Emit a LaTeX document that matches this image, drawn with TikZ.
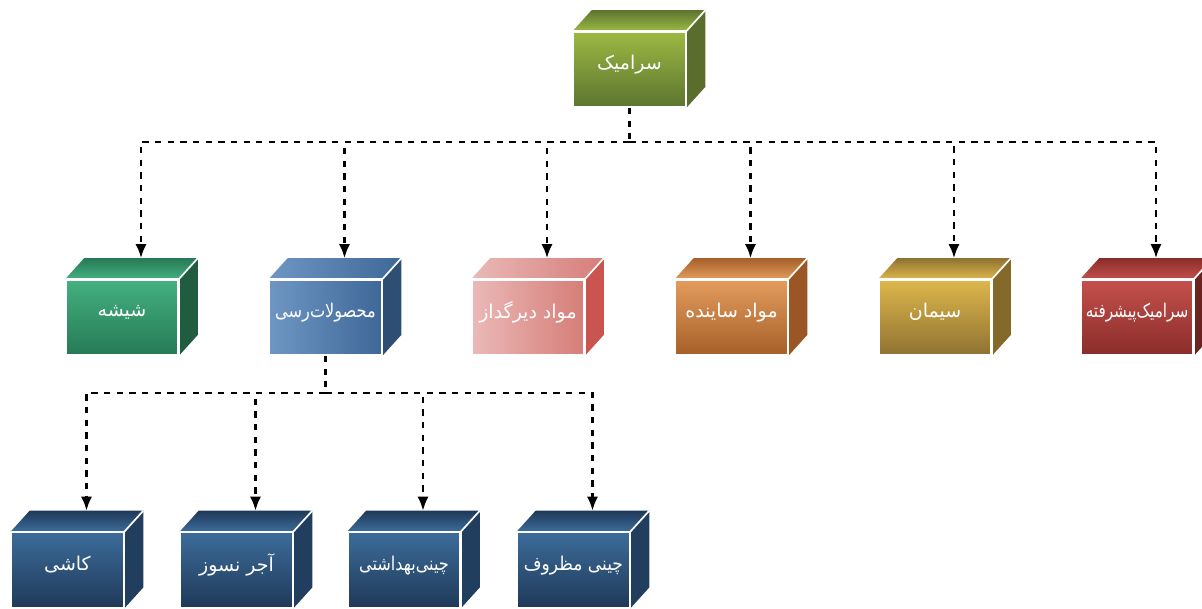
\documentclass[tikz,border=0pt]{standalone}
\usepackage{fontspec}
\usetikzlibrary{arrows.meta,calc}

\newfontfamily\fa[Script=Arabic]{DejaVu Sans}
\TeXXeTstate=1
\newcommand{\lbl}[1]{\raisebox{10pt}{\fa\beginR #1\endR}}
\newcommand{\narrowlbl}[1]{\scalebox{0.85}[1]{\lbl{#1}}}

\definecolor{oliveA}{HTML}{9CB943}
\definecolor{oliveB}{HTML}{5C7530}
\definecolor{oliveS}{HTML}{5A6D2D}
\definecolor{greenA}{HTML}{44B080}
\definecolor{greenB}{HTML}{267A55}
\definecolor{greenS}{HTML}{1F5C40}
\definecolor{steelA}{HTML}{6F96C3}
\definecolor{steelB}{HTML}{3E6898}
\definecolor{steelS}{HTML}{2F4E73}
\definecolor{roseA}{HTML}{EAB9B7}
\definecolor{roseB}{HTML}{D67D78}
\definecolor{roseS}{HTML}{C95450}
\definecolor{rustA}{HTML}{E39C5D}
\definecolor{rustB}{HTML}{A65F28}
\definecolor{rustS}{HTML}{9A5624}
\definecolor{goldA}{HTML}{DDB64B}
\definecolor{goldB}{HTML}{8F7232}
\definecolor{goldS}{HTML}{84692A}
\definecolor{redA}{HTML}{C4504C}
\definecolor{redB}{HTML}{8A2D2A}
\definecolor{redS}{HTML}{6A2321}
\definecolor{navyA}{HTML}{3C6C9A}
\definecolor{navyB}{HTML}{1F3958}
\definecolor{navyS}{HTML}{223E5E}

\tikzset{
    block/.style={draw=white, line width=1.2pt, minimum width=2.8cm, minimum height=1.875cm,
        inner sep=0pt, text=white, font=\fontsize{13.5}{15}\selectfont},
    vgrad/.style 2 args={block, top color=#1, bottom color=#2},
    hgrad/.style 2 args={block, left color=#1, right color=#2},
    vlid/.style={top color=#1B, bottom color=#1A},
    hlid/.style={left color=#1A, right color=#1B},
    edge/.style={white, line width=1.2pt},
    trunk/.style={line width=1.7pt, dash pattern=on 4.5pt off 4.5pt},
    link/.style={trunk, -{Latex[length=10pt,width=8pt]}},
}

\begin{document}
\begin{tikzpicture}[x=0.025cm, y=-0.025cm]
        \useasboundingbox (0,0) rectangle (1202,609);

        \node [vgrad={oliveA}{oliveB}] (seramik) at (629.5, 69.5) {\lbl{سرامیک}};

        \node [vgrad={greenA}{greenB}] (shishe) at (122, 317.5) {\lbl{شیشه}};
        \node [hgrad={steelA}{steelB}] (rosi) at (325.5, 317.5) {\narrowlbl{محصولات‌رسی}};
        \node [hgrad={roseA}{roseB}] (dirgodaz) at (528, 317.5) {\lbl{مواد دیرگداز}};
        \node [vgrad={rustA}{rustB}] (sayande) at (731.5, 317.5) {\lbl{مواد ساینده}};
        \node [vgrad={goldA}{goldB}] (siman) at (935, 317.5) {\lbl{سیمان}};
        \node [vgrad={redA}{redB}] (pishrafte) at (1137, 317.5) {\scalebox{0.8}[1]{\lbl{سرامیک‌پیشرفته}}};

        \node [vgrad={navyA}{navyB}] (kashi) at (67.5, 570) {\lbl{کاشی}};
        \node [vgrad={navyA}{navyB}] (ajor) at (236.5, 570) {\lbl{آجر نسوز}};
        \node [vgrad={navyA}{navyB}] (behdashti) at (404, 570) {\narrowlbl{چینی‌بهداشتی}};
        \node [vgrad={navyA}{navyB}] (mazruf) at (573.5, 570) {\scalebox{0.9}[1]{\lbl{چینی مظروف}}};

        % top and side faces of each box
        \foreach \n/\c/\lid in {seramik/olive/vlid, shishe/green/vlid, rosi/steel/hlid,
                dirgodaz/rose/hlid, sayande/rust/vlid, siman/gold/vlid, pishrafte/red/vlid,
                kashi/navy/vlid, ajor/navy/vlid, behdashti/navy/vlid, mazruf/navy/vlid} {
            \shade [\lid=\c]
                (\n.north west) -- ++(19,-21) -- ($(\n.north east)+(19,-21)$) -- (\n.north east) -- cycle;
            \fill [\c S]
                (\n.north east) -- ++(19,-21) -- ($(\n.south east)+(19,-21)$) -- (\n.south east) -- cycle;
            \draw [edge] (\n.north west) -- (\n.north east) -- (\n.south east);
            \draw [edge] (\n.north east) -- ++(19,-21);
            \coordinate (\n-in) at ($(\n.north)+(19,-21)$);
        }

        \coordinate (hub) at ($(seramik.south)+(0,34)$);
        \draw [trunk] (seramik.south) -- (hub);
        \foreach \n in {shishe, rosi, dirgodaz, sayande, siman, pishrafte}
            \draw [link] (hub) -| (\n-in);

        \coordinate (subhub) at ($(rosi.south)+(0,37)$);
        \draw [trunk] (rosi.south) -- (subhub);
        \foreach \n in {kashi, ajor, behdashti, mazruf}
            \draw [link] (subhub) -| (\n-in);

    \end{tikzpicture}
\end{document}
